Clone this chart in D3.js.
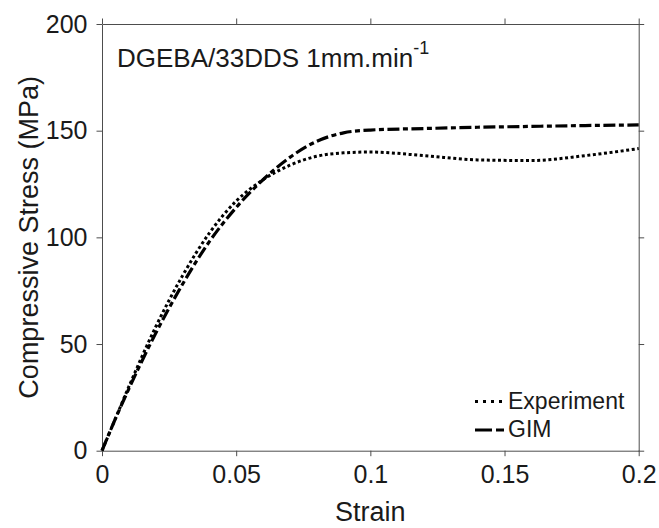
<!DOCTYPE html>
<html>
<head>
<meta charset="utf-8">
<script src="https://cdn.jsdelivr.net/npm/d3@7"></script>
<style>
  body { margin: 0; background: #fff; }
  text { font-family: "Liberation Sans", Arial, sans-serif; fill: #1a1a1a; }
  .axis path, .axis line { stroke: #4d4d4d; stroke-width: 1; }
</style>
</head>
<body>
<svg id="chart"></svg>
<script>
// data
var strain     = [0, 0.005, 0.01, 0.02, 0.03, 0.04, 0.05, 0.06, 0.07, 0.08, 0.09, 0.1, 0.12, 0.14, 0.16, 0.18, 0.2];
var gimStress  = [0, 15, 29, 55, 78, 98, 114, 127, 137.5, 145, 149, 150.3, 151, 151.6, 152, 152.4, 152.7];
var expStress  = [0, 15, 30, 58, 82, 102, 117, 127, 133.8, 138, 139.6, 140, 138.3, 136.3, 136, 138.3, 141.6];
var xTicks     = [0, 0.05, 0.1, 0.15, 0.2];
var xTickLabels = ["0", "0.05", "0.1", "0.15", "0.2"];
var yTicks     = [0, 50, 100, 150, 200];
var seriesNames = ["Experiment", "GIM"];

var W = 659, H = 528;
var margin = {left: 102, top: 24, right: 20.3, bottom: 77.3};
var w = W - margin.left - margin.right;
var h = H - margin.top - margin.bottom;

var svg = d3.select("#chart").attr("width", W).attr("height", H);
var g = svg.append("g").attr("transform", "translate(" + margin.left + "," + margin.top + ")");

var x = d3.scaleLinear().domain([0, 0.2]).range([0, w]);
var y = d3.scaleLinear().domain([0, 200]).range([h, 0]);

// axes (box on, ticks outside)
var xAxis = g.append("g").attr("class", "axis").attr("transform", "translate(0," + h + ")")
    .call(d3.axisBottom(x).tickValues(xTicks).tickSize(5.5).tickSizeOuter(0).tickPadding(9)
        .tickFormat(function(d, i) { return xTickLabels[i]; }));
xAxis.selectAll("text").style("font-size", "25px").attr("fill", "#1a1a1a");

var yAxis = g.append("g").attr("class", "axis")
    .call(d3.axisLeft(y).tickValues(yTicks).tickSize(5.5).tickSizeOuter(0).tickPadding(9));
yAxis.selectAll("text").style("font-size", "25px").attr("fill", "#1a1a1a");

g.append("g").attr("class", "axis")
    .call(d3.axisTop(x).tickValues(xTicks).tickSize(5.5).tickSizeOuter(0).tickFormat(""));
g.append("g").attr("class", "axis").attr("transform", "translate(" + w + ",0)")
    .call(d3.axisRight(y).tickValues(yTicks).tickSize(5.5).tickSizeOuter(0).tickFormat(""));
g.selectAll(".axis .domain").attr("fill", "none");

// curves
var line = d3.line().curve(d3.curveMonotoneX);

function pts(vals) {
    return strain.map(function(s, i) { return [x(s), y(vals[i])]; });
}

g.append("path")
    .attr("d", line(pts(gimStress)))
    .attr("fill", "none").attr("stroke", "#000")
    .attr("stroke-width", 3.2)
    .attr("stroke-dasharray", "12,3.5,5,3.5");

g.append("path")
    .attr("d", line(pts(expStress)))
    .attr("fill", "none").attr("stroke", "#000")
    .attr("stroke-width", 3)
    .attr("stroke-dasharray", "3,2.6");

// title
var title = g.append("text").attr("x", 15).attr("y", 42.7).style("font-size", "26px");
title.append("tspan").text("DGEBA/33DDS 1mm.min");
title.append("tspan").attr("dy", -13).style("font-size", "18px").text("-1");

// axis labels
svg.append("text").attr("x", margin.left + w / 2).attr("y", 521)
    .attr("text-anchor", "middle").style("font-size", "27px").text("Strain");
svg.append("text")
    .attr("transform", "translate(38," + (margin.top + h / 2) + ") rotate(-90)")
    .attr("text-anchor", "middle").style("font-size", "27px").text("Compressive Stress (MPa)");

// legend
var legend = svg.append("g").attr("transform", "translate(475,0)");
legend.append("line").attr("x1", 0).attr("x2", 29).attr("y1", 401.5).attr("y2", 401.5)
    .attr("stroke", "#000").attr("stroke-width", 3).attr("stroke-dasharray", "3,5");
legend.append("line").attr("x1", 0).attr("x2", 29).attr("y1", 430).attr("y2", 430)
    .attr("stroke", "#000").attr("stroke-width", 3.2).attr("stroke-dasharray", "17,4,8,10");
legend.append("text").attr("x", 33).attr("y", 408.5).style("font-size", "23px").text(seriesNames[0]);
legend.append("text").attr("x", 33).attr("y", 437).style("font-size", "23px").text(seriesNames[1]);
</script>
</body>
</html>
